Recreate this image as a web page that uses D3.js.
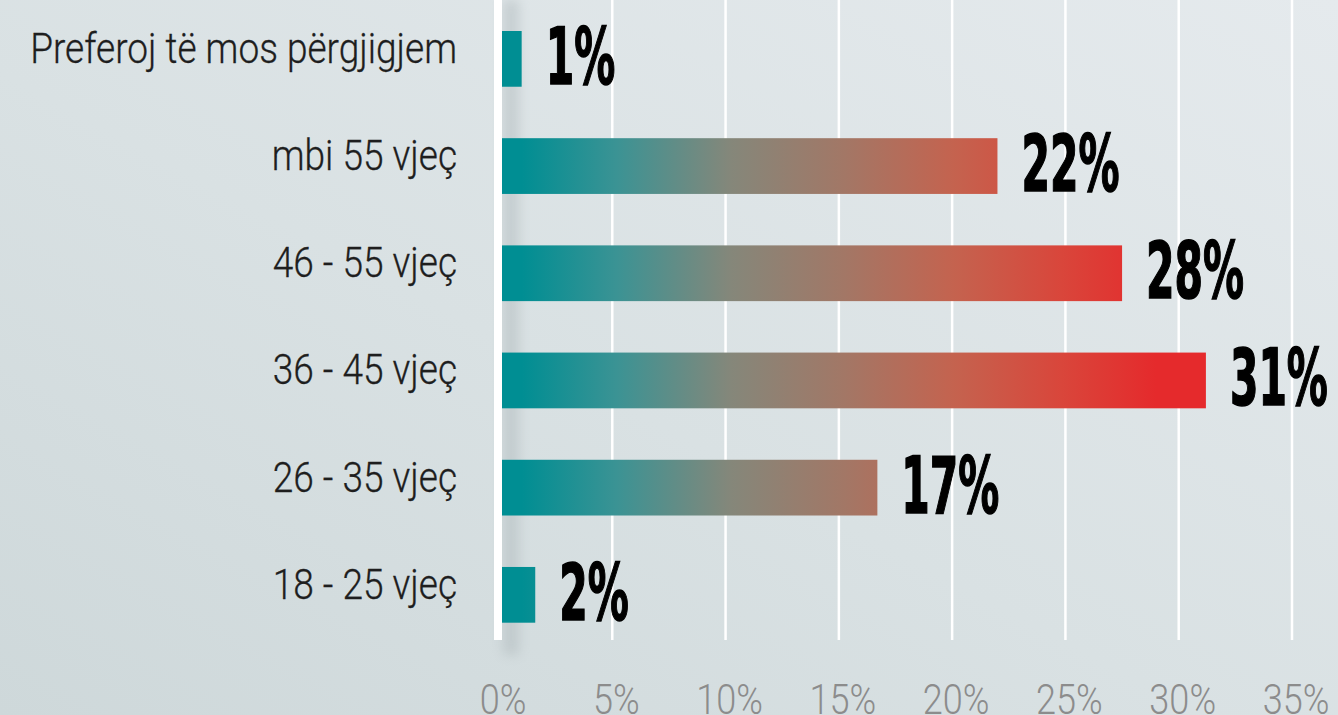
<!DOCTYPE html>
<html>
<head>
<meta charset="utf-8">
<script src="https://cdn.jsdelivr.net/npm/d3@7"></script>
<style>
  body { margin: 0; overflow: hidden; }
  svg { display: block; }
</style>
</head>
<body>
<div class="chart"></div>
<script>
const categories = ["Preferoj të mos përgjigjem", "mbi 55 vjeç", "46 - 55 vjeç", "36 - 45 vjeç", "26 - 35 vjeç", "18 - 25 vjeç"];
const values = [1.0, 22.0, 27.5, 31.2, 16.7, 1.6];
const valueLabels = ["1%", "22%", "28%", "31%", "17%", "2%"];
const tickValues = [0, 5, 10, 15, 20, 25, 30, 35];

const width = 1338, height = 715;

const svg = d3.select(".chart").append("svg")
  .attr("width", width)
  .attr("height", height);

const defs = svg.append("defs");

// background
const bg = defs.append("linearGradient")
  .attr("id", "bg")
  .attr("x1", "0").attr("y1", "1").attr("x2", "1").attr("y2", "0");
bg.append("stop").attr("offset", "0").attr("stop-color", "#ced8da");
bg.append("stop").attr("offset", "0.45").attr("stop-color", "#d9e1e3");
bg.append("stop").attr("offset", "1").attr("stop-color", "#e5eaed");

svg.append("rect")
  .attr("width", width)
  .attr("height", height)
  .attr("fill", "url(#bg)");

const xScale = d3.scaleLinear()
  .domain([0, 35])
  .range([499, 1292]);

const yScale = d3.scaleBand()
  .domain(categories)
  .range([31, 622.7])
  .paddingInner(0.48)
  .paddingOuter(0);

// bar gradient spans the chart, so longer bars get redder
const grad = defs.append("linearGradient")
  .attr("id", "barGrad")
  .attr("gradientUnits", "userSpaceOnUse")
  .attr("x1", xScale(1)).attr("y1", 0)
  .attr("x2", xScale(29)).attr("y2", 0);
[["0", "#008e93"], ["0.15", "#3b9394"], ["0.33", "#85877a"], ["0.5", "#a17867"],
 ["0.68", "#c4634f"], ["0.85", "#d9463b"], ["1", "#e52a2c"]].forEach(s => {
  grad.append("stop").attr("offset", s[0]).attr("stop-color", s[1]);
});

// shadow next to the axis line
const blur = defs.append("filter").attr("id", "blur")
  .attr("x", "-1").attr("y", "-0.2").attr("width", "3").attr("height", "1.4");
blur.append("feGaussianBlur").attr("stdDeviation", 6);

svg.append("rect")
  .attr("x", xScale(0) + 4)
  .attr("y", 0)
  .attr("width", 16)
  .attr("height", 655)
  .attr("fill", "#a9b3b6")
  .attr("opacity", 0.45)
  .attr("filter", "url(#blur)");

// grid
svg.selectAll(".grid")
  .data(tickValues.filter(d => d > 0))
  .enter()
  .append("line")
  .attr("class", "grid")
  .attr("x1", d => xScale(d))
  .attr("x2", d => xScale(d))
  .attr("y1", 0)
  .attr("y2", 640)
  .attr("stroke", "#ffffff")
  .attr("stroke-width", 2.5);

// bars
svg.selectAll(".bar")
  .data(categories)
  .enter()
  .append("rect")
  .attr("class", "bar")
  .attr("x", xScale(0))
  .attr("y", d => yScale(d))
  .attr("width", (d, i) => xScale(values[i]) - xScale(0))
  .attr("height", yScale.bandwidth())
  .attr("fill", "url(#barGrad)");

// axis line
svg.append("rect")
  .attr("x", xScale(0) - 5)
  .attr("y", 0)
  .attr("width", 8)
  .attr("height", 640)
  .attr("fill", "#ffffff");

// category labels
const catG = svg.selectAll(".cat")
  .data(categories)
  .enter()
  .append("g")
  .attr("class", "cat");

const catText = catG.append("text")
  .attr("text-anchor", "end")
  .attr("font-family", "Roboto, 'Liberation Sans', sans-serif")
  .attr("font-weight", 300)
  .attr("font-size", 42)
  .attr("fill", "#1e1e1e")
  .attr("stroke", "#1e1e1e")
  .attr("stroke-width", 0.3)
  .text(d => d);

let longest = d3.max(catText.nodes(), n => n.getComputedTextLength());
const catScale = 427 / longest;
catG.attr("transform", d =>
  "translate(457," + (yScale(d) + yScale.bandwidth() / 2 + 4) + ") scale(" + catScale + ",1)");

// value labels
const valG = svg.selectAll(".val")
  .data(categories)
  .enter()
  .append("g")
  .attr("class", "val");

const valText = valG.append("text")
  .attr("text-anchor", "start")
  .attr("font-family", "'Liberation Sans Narrow', 'DejaVu Sans Condensed', sans-serif")
  .attr("font-weight", "bold")
  .attr("font-size", 78)
  .attr("fill", "#000000")
  .attr("stroke", "#000000")
  .attr("stroke-width", 1.5)
  .text((d, i) => valueLabels[i]);

const refW = valText.filter((d, i) => i === 1).node().getComputedTextLength();
const valScale = 98 / refW;
valG.attr("transform", (d, i) =>
  "translate(" + (xScale(values[i]) + 24) + "," + (yScale(d) + yScale.bandwidth() - 3) + ") scale(" + valScale + ",1)");

// tick labels
const tickG = svg.selectAll(".tick")
  .data(tickValues)
  .enter()
  .append("g")
  .attr("class", "tick")
  .attr("transform", d => "translate(" + (xScale(d) + 4) + ",714) scale(0.84,1)");

tickG.append("text")
  .attr("text-anchor", "middle")
  .attr("font-family", "Roboto, 'Liberation Sans', sans-serif")
  .attr("font-weight", 300)
  .attr("font-size", 43)
  .attr("fill", "#8c8c8c")
  .text(d => d + "%");
</script>
</body>
</html>
